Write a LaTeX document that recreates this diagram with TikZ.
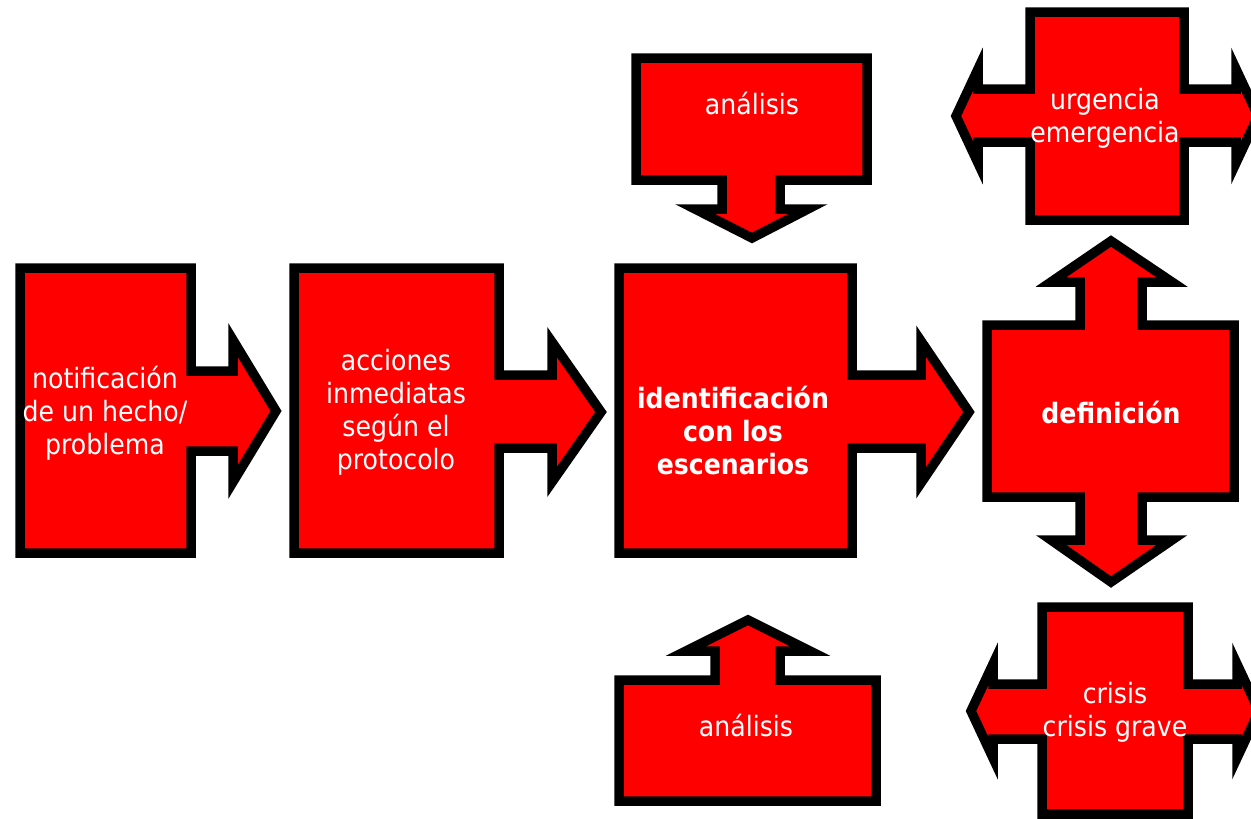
\documentclass[tikz,border=0pt]{standalone}
\usepackage{fontspec}
\setmainfont{DejaVu Sans}[FakeStretch=0.9]
\begin{document}
\begin{tikzpicture}[x=1pt,y=-1pt,
  shp/.style={draw=black, fill=red, line width=9.5pt, line join=miter, miter limit=20},
  lbl/.style={text=white, font=\fontsize{28}{33}\selectfont, align=center, inner sep=0pt},
  blbl/.style={lbl, font=\fontsize{28}{33}\selectfont\bfseries}]
\useasboundingbox (0,0) rectangle (1251,819);
% notificacion
\path[shp] (20,268) -- (191,268) -- (191,371) -- (233,371) -- (233,340) -- (276,411) -- (233,482) -- (233,451) -- (191,451) -- (191,553) -- (20,553) -- cycle;
% acciones
\path[shp] (294,268) -- (499,268) -- (499,375) -- (552,375) -- (552,342) -- (601,412) -- (552,482) -- (552,448) -- (499,448) -- (499,553) -- (294,553) -- cycle;
% identificacion
\path[shp] (619,268) -- (852,268) -- (852,375) -- (921,375) -- (921,341) -- (969,412) -- (921,483) -- (921,448) -- (852,448) -- (852,553) -- (619,553) -- cycle;
% analisis top
\path[shp] (636,58) -- (867,58) -- (867,180) -- (780,180) -- (780,209) -- (808,209) -- (752,238) -- (695,209) -- (722,209) -- (722,180) -- (636,180) -- cycle;
% analisis bottom
\path[shp] (619,680) -- (715,680) -- (715,651) -- (686,651) -- (748,620) -- (810,651) -- (780,651) -- (780,680) -- (876,680) -- (876,801) -- (619,801) -- cycle;
% definicion
\path[shp] (987,325) -- (1080,325) -- (1080,282) -- (1051,282) -- (1111,241) -- (1172,282) -- (1142,282) -- (1142,325) -- (1234,325) -- (1234,497) -- (1142,497) -- (1142,540) -- (1172,540) -- (1111,582) -- (1051,540) -- (1080,540) -- (1080,497) -- (987,497) -- cycle;
% urgencia
\path[shp] (1030,12) -- (1184,12) -- (1184,89) -- (1236,89) -- (1236,69) -- (1258,116) -- (1236,163) -- (1236,142) -- (1184,142) -- (1184,220) -- (1030,220) -- (1030,142) -- (978,142) -- (978,163) -- (956,116) -- (978,69) -- (978,89) -- (1030,89) -- cycle;
% crisis
\path[shp] (1042,607) -- (1188,607) -- (1188,684) -- (1237,684) -- (1237,664) -- (1259,711) -- (1237,758) -- (1237,739) -- (1188,739) -- (1188,814) -- (1042,814) -- (1042,739) -- (993,739) -- (993,758) -- (971,711) -- (993,664) -- (993,684) -- (1042,684) -- cycle;
% labels
\node[lbl] (tnot) at (105,413) {notificación\\de un hecho/\\problema};
\node[lbl] (tacc) at (396,412) {acciones\\inmediatas\\según el\\protocolo};
\node[blbl] (tide) at (733,430) {identificación\\con los\\escenarios};
\node[lbl] (tant) at (752,103) {análisis};
\node[lbl] (tanb) at (746,725) {análisis};
\node[blbl] (tdef) at (1111,412) {definición};
\node[lbl] (turg) at (1105,118) {urgencia\\emergencia};
\node[lbl] (tcri) at (1115,712) {crisis\\crisis grave};
\end{tikzpicture}
\end{document}
